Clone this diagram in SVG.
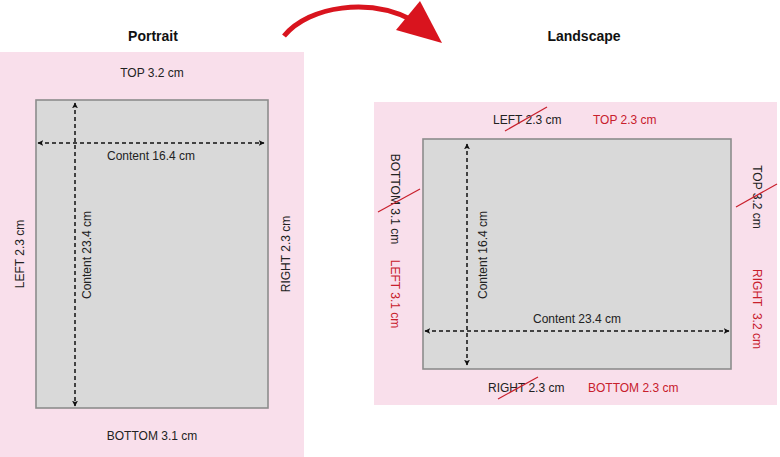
<svg xmlns="http://www.w3.org/2000/svg" width="780" height="457" viewBox="0 0 780 457">
<style>
.page{fill:#f9dfeb}
.content{fill:#d9d9d9;stroke:#8c8c8c;stroke-width:1.6}
.t{font-family:"Liberation Sans",Arial,sans-serif;font-size:12px;fill:#222}
.r{fill:#c8202c}
.title{font-family:"Liberation Sans",Arial,sans-serif;font-size:14px;font-weight:bold;fill:#111}
.dim{stroke:#111;stroke-width:1.5;stroke-dasharray:4 3;fill:none;marker-start:url(#ah);marker-end:url(#ah)}
.strike{stroke:#c8202c;stroke-width:1.2}
</style>
<defs>
<marker id="ah" viewBox="0 0 10 10" refX="9" refY="5" markerWidth="6" markerHeight="6" markerUnits="userSpaceOnUse" orient="auto-start-reverse">
<path d="M0,0 L10,5 L0,10 L2.5,5 Z" fill="#111"/>
</marker>
</defs>
<g id="portrait">
<text class="title" x="153" y="41" text-anchor="middle">Portrait</text>
<rect class="page" x="0" y="52" width="304" height="405"/>
<rect class="content" x="36" y="100" width="232" height="308"/>
<text class="t" x="152" y="77" text-anchor="middle">TOP 3.2 cm</text>
<text class="t" x="152" y="440" text-anchor="middle">BOTTOM 3.1 cm</text>
<text class="t" transform="translate(24,254) rotate(-90)" text-anchor="middle">LEFT 2.3 cm</text>
<text class="t" transform="translate(290,254) rotate(-90)" text-anchor="middle">RIGHT 2.3 cm</text>
<text class="t" x="151" y="160" text-anchor="middle">Content 16.4 cm</text>
<text class="t" transform="translate(91,255) rotate(-90)" text-anchor="middle">Content 23.4 cm</text>
</g>
<g id="landscape">
<text class="title" x="584" y="41" text-anchor="middle">Landscape</text>
<rect class="page" x="374" y="102" width="403" height="303"/>
<rect class="content" x="423" y="139" width="308" height="230"/>
<text class="t" x="493" y="124">LEFT 2.3 cm</text>
<text class="t r" x="593" y="124">TOP 2.3 cm</text>
<text class="t" x="488" y="392">RIGHT 2.3 cm</text>
<text class="t r" x="588" y="392">BOTTOM 2.3 cm</text>
<text class="t" transform="translate(391,199) rotate(90)" text-anchor="middle">BOTTOM 3.1 cm</text>
<text class="t r" transform="translate(391,294) rotate(90)" text-anchor="middle">LEFT 3.1 cm</text>
<text class="t" transform="translate(753,197) rotate(90)" text-anchor="middle">TOP 3.2 cm</text>
<text class="t r" transform="translate(753,309) rotate(90)" text-anchor="middle" xml:space="preserve">RIGHT  3.2 cm</text>
<text class="t" transform="translate(487,255) rotate(-90)" text-anchor="middle">Content 16.4 cm</text>
<text class="t" x="577" y="323" text-anchor="middle">Content 23.4 cm</text>
<line class="strike" x1="505" y1="131" x2="547" y2="107"/>
<line class="strike" x1="498" y1="399" x2="538" y2="377"/>
<line class="strike" x1="378" y1="212" x2="420" y2="189"/>
<line class="strike" x1="736" y1="207" x2="777" y2="184"/>
</g>
<g id="connectors">
<line class="dim" x1="75" y1="103" x2="75" y2="406"/>
<line class="dim" x1="38" y1="143" x2="264" y2="143"/>
<line class="dim" x1="467" y1="144" x2="467" y2="365"/>
<line class="dim" x1="425" y1="331" x2="729" y2="331"/>
<path d="M284,36 C310,5 370,-2 412,20" fill="none" stroke="#d9141e" stroke-width="5"/>
<polygon points="420,1 442,43 396,30" fill="#d9141e"/>
</g>
</svg>
